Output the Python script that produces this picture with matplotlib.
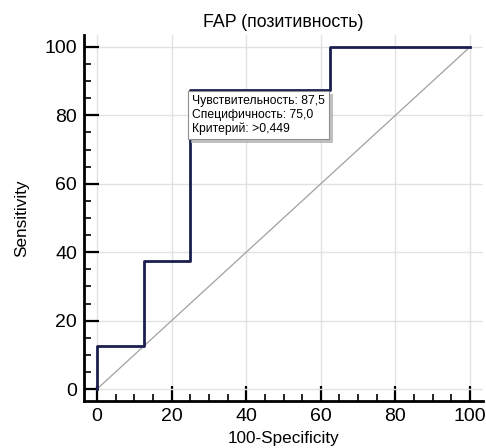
import numpy as np
import matplotlib.pyplot as plt
import matplotlib.patheffects as pe
from matplotlib.ticker import MultipleLocator

# ROC curve steps (100-Specificity, Sensitivity)
fpr = [0, 0, 12.5, 12.5, 25, 25, 62.5, 62.5, 100]
tpr = [0, 12.5, 12.5, 37.5, 37.5, 87.5, 87.5, 100, 100]
ref_line = [0, 100]

title = "FAP (позитивность)"
box_text = "Чувствительность: 87,5\nСпецифичность: 75,0\nКритерий: >0,449"
box_xy = (25, 87.5)

plt.rcParams['font.family'] = ['Liberation Sans', 'DejaVu Sans']

fig = plt.figure(figsize=(4.86, 4.48), dpi=100)
ax = fig.add_axes([84 / 486, 47 / 448, 399 / 486, 366 / 448])

ax.plot(ref_line, ref_line, color='#a0a0a0', lw=0.9, zorder=2)
ax.plot(fpr, tpr, color='#1a1f4f', lw=2.0, zorder=3)

ax.set_xlim(-3.5, 103.5)
ax.set_ylim(-3.5, 103.5)
ax.xaxis.set_major_locator(MultipleLocator(20))
ax.yaxis.set_major_locator(MultipleLocator(20))
ax.xaxis.set_minor_locator(MultipleLocator(5))
ax.yaxis.set_minor_locator(MultipleLocator(5))
ax.grid(True, which='major', color='#e2e2e2', lw=1.0, zorder=0)

for s in ['top', 'right']:
    ax.spines[s].set_visible(False)
for s in ['left', 'bottom']:
    ax.spines[s].set_linewidth(2.0)
    ax.spines[s].set_color('black')

ax.tick_params(which='major', direction='in', length=11, width=1.6, labelsize=14, pad=5)
ax.tick_params(which='minor', direction='in', length=5, width=1.2)

ax.set_title(title, fontsize=12.8, pad=6)
ax.set_xlabel("100-Specificity", fontsize=12.3, labelpad=4)
ax.set_ylabel("Sensitivity", fontsize=12.3, labelpad=11)

t = ax.annotate(box_text, xy=box_xy, xytext=(box_xy[0] + 0.5, box_xy[1] - 1.5),
                fontsize=8.7, va='top', ha='left', linespacing=1.2,
                bbox=dict(boxstyle='square,pad=0.35', fc='white', ec='#909090', lw=0.8),
                zorder=5)
t.get_bbox_patch().set_path_effects([
    pe.SimplePatchShadow(offset=(2.5, -2.5), shadow_rgbFace='#b0b0b0', alpha=0.8),
    pe.Normal()])

fig.savefig('out.png', dpi=100)
